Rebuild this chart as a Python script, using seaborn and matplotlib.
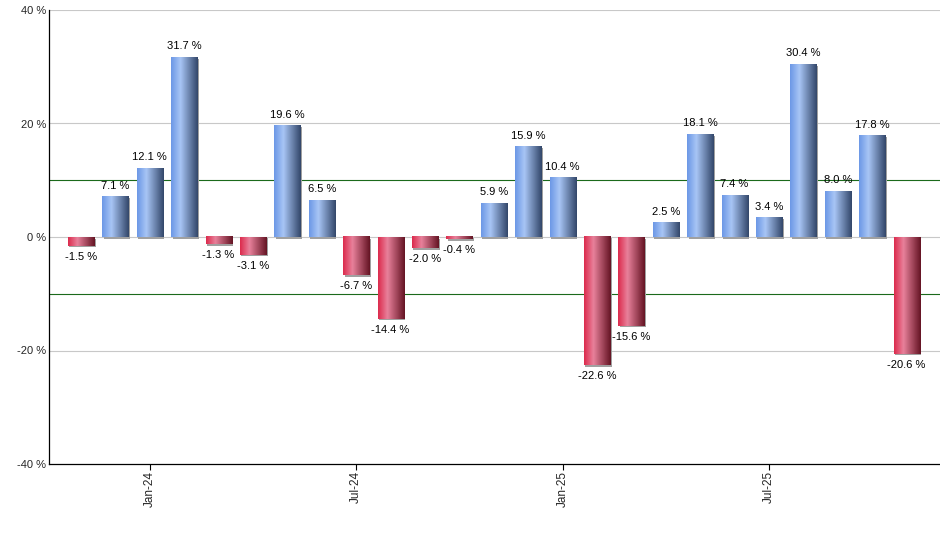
import numpy as np
import pandas as pd
import matplotlib
matplotlib.use("Agg")
import matplotlib.pyplot as plt
import matplotlib.transforms as mtransforms
from matplotlib.colors import LinearSegmentedColormap
from matplotlib.patches import Rectangle
import seaborn as sns

# ── Data ──────────────────────────────────────────────────────
months = [
    "Nov-23", "Dec-23",
    "Jan-24", "Feb-24", "Mar-24", "Apr-24", "May-24", "Jun-24",
    "Jul-24", "Aug-24", "Sep-24", "Oct-24", "Nov-24", "Dec-24",
    "Jan-25", "Feb-25", "Mar-25", "Apr-25", "May-25", "Jun-25",
    "Jul-25", "Aug-25", "Sep-25", "Oct-25", "Nov-25",
]
returns = [
    -1.5, 7.1, 12.1, 31.7, -1.3, -3.1, 19.6, 6.5, -6.7, -14.4,
    -2.0, -0.4, 5.9, 15.9, 10.4, -22.6, -15.6, 2.5, 18.1, 7.4,
    3.4, 30.4, 8.0, 17.8, -20.6,
]
tick_labels = ["Jan-24", "Jul-24", "Jan-25", "Jul-25"]
y_ticks = [-40, -20, 0, 20, 40]
band_lines = [-10, 10]

df = pd.DataFrame({"month": months, "ret": returns})
df["sign"] = np.where(df["ret"] >= 0, "up", "down")

sns.set_theme(style="white")
plt.rcParams["font.family"] = ["Liberation Sans", "DejaVu Sans"]

blue_cmap = LinearSegmentedColormap.from_list(
    "blue_bar", [(0, "#6c98e6"), (0.35, "#a8c5f5"), (1, "#33476a")])
red_cmap = LinearSegmentedColormap.from_list(
    "red_bar", [(0, "#dc2b4d"), (0.35, "#e8819b"), (1, "#651424")])

fig = plt.figure(figsize=(9.4, 5.5), dpi=100)
ax = fig.add_axes([49 / 940, 86 / 550, 891 / 940, 454 / 550])

sns.barplot(data=df, x="month", y="ret", hue="sign",
            palette={"up": "#6c98e6", "down": "#dc2b4d"},
            width=0.76, dodge=False, legend=False, ax=ax, zorder=3)

# gridlines and +/-10 band lines
for yv in y_ticks[1:]:
    ax.axhline(yv, color="#c8c8c8", linewidth=0.8, zorder=1)
for yv in band_lines:
    ax.axhline(yv, color="#1b6a1b", linewidth=0.8, zorder=2)

# gradient fill + small drop shadow per bar
shadow_tr = mtransforms.offset_copy(ax.transData, fig=fig, x=1.5, y=-1.5, units="dots")
grad = np.linspace(0, 1, 64).reshape(1, -1)
for bar in list(ax.patches):
    x0, w = bar.get_x(), bar.get_width()
    y0, h = bar.get_y(), bar.get_height()
    if w == 0:
        continue
    ybot, ytop = min(y0, y0 + h), max(y0, y0 + h)
    cmap = blue_cmap if h >= 0 else red_cmap
    ax.add_patch(Rectangle((x0, ybot), w, ytop - ybot, transform=shadow_tr,
                           facecolor="#a0a0a0", edgecolor="none", zorder=2.5))
    ax.imshow(grad, extent=[x0, x0 + w, ybot, ytop], aspect="auto",
              cmap=cmap, interpolation="bilinear", zorder=3.5)
    bar.set_visible(False)

# value labels
for i, v in enumerate(returns):
    ax.annotate(f"{v:.1f} %", xy=(i, v), xytext=(0, 8 if v >= 0 else -8),
                textcoords="offset points", ha="center", va="center",
                fontsize=8, color="black", zorder=5)

ax.set_xlim(-0.93, 24.97)
ax.set_ylim(-40, 40)
ax.set_yticks(y_ticks)
ax.set_yticklabels([f"{t} %" for t in y_ticks], fontsize=8)
ax.set_xticks([months.index(m) for m in tick_labels])
ax.set_xticklabels(tick_labels, rotation=90, fontsize=8.5)
ax.set_xlabel("")
ax.set_ylabel("")

ax.tick_params(axis="x", bottom=True, length=4, width=0.8, color="black", pad=1)
ax.tick_params(axis="y", left=False, length=0, pad=2)

for side in ["top", "right"]:
    ax.spines[side].set_visible(False)
for side in ["left", "bottom"]:
    ax.spines[side].set_color("black")
    ax.spines[side].set_linewidth(0.9)

fig.savefig("out.png", dpi=100)
